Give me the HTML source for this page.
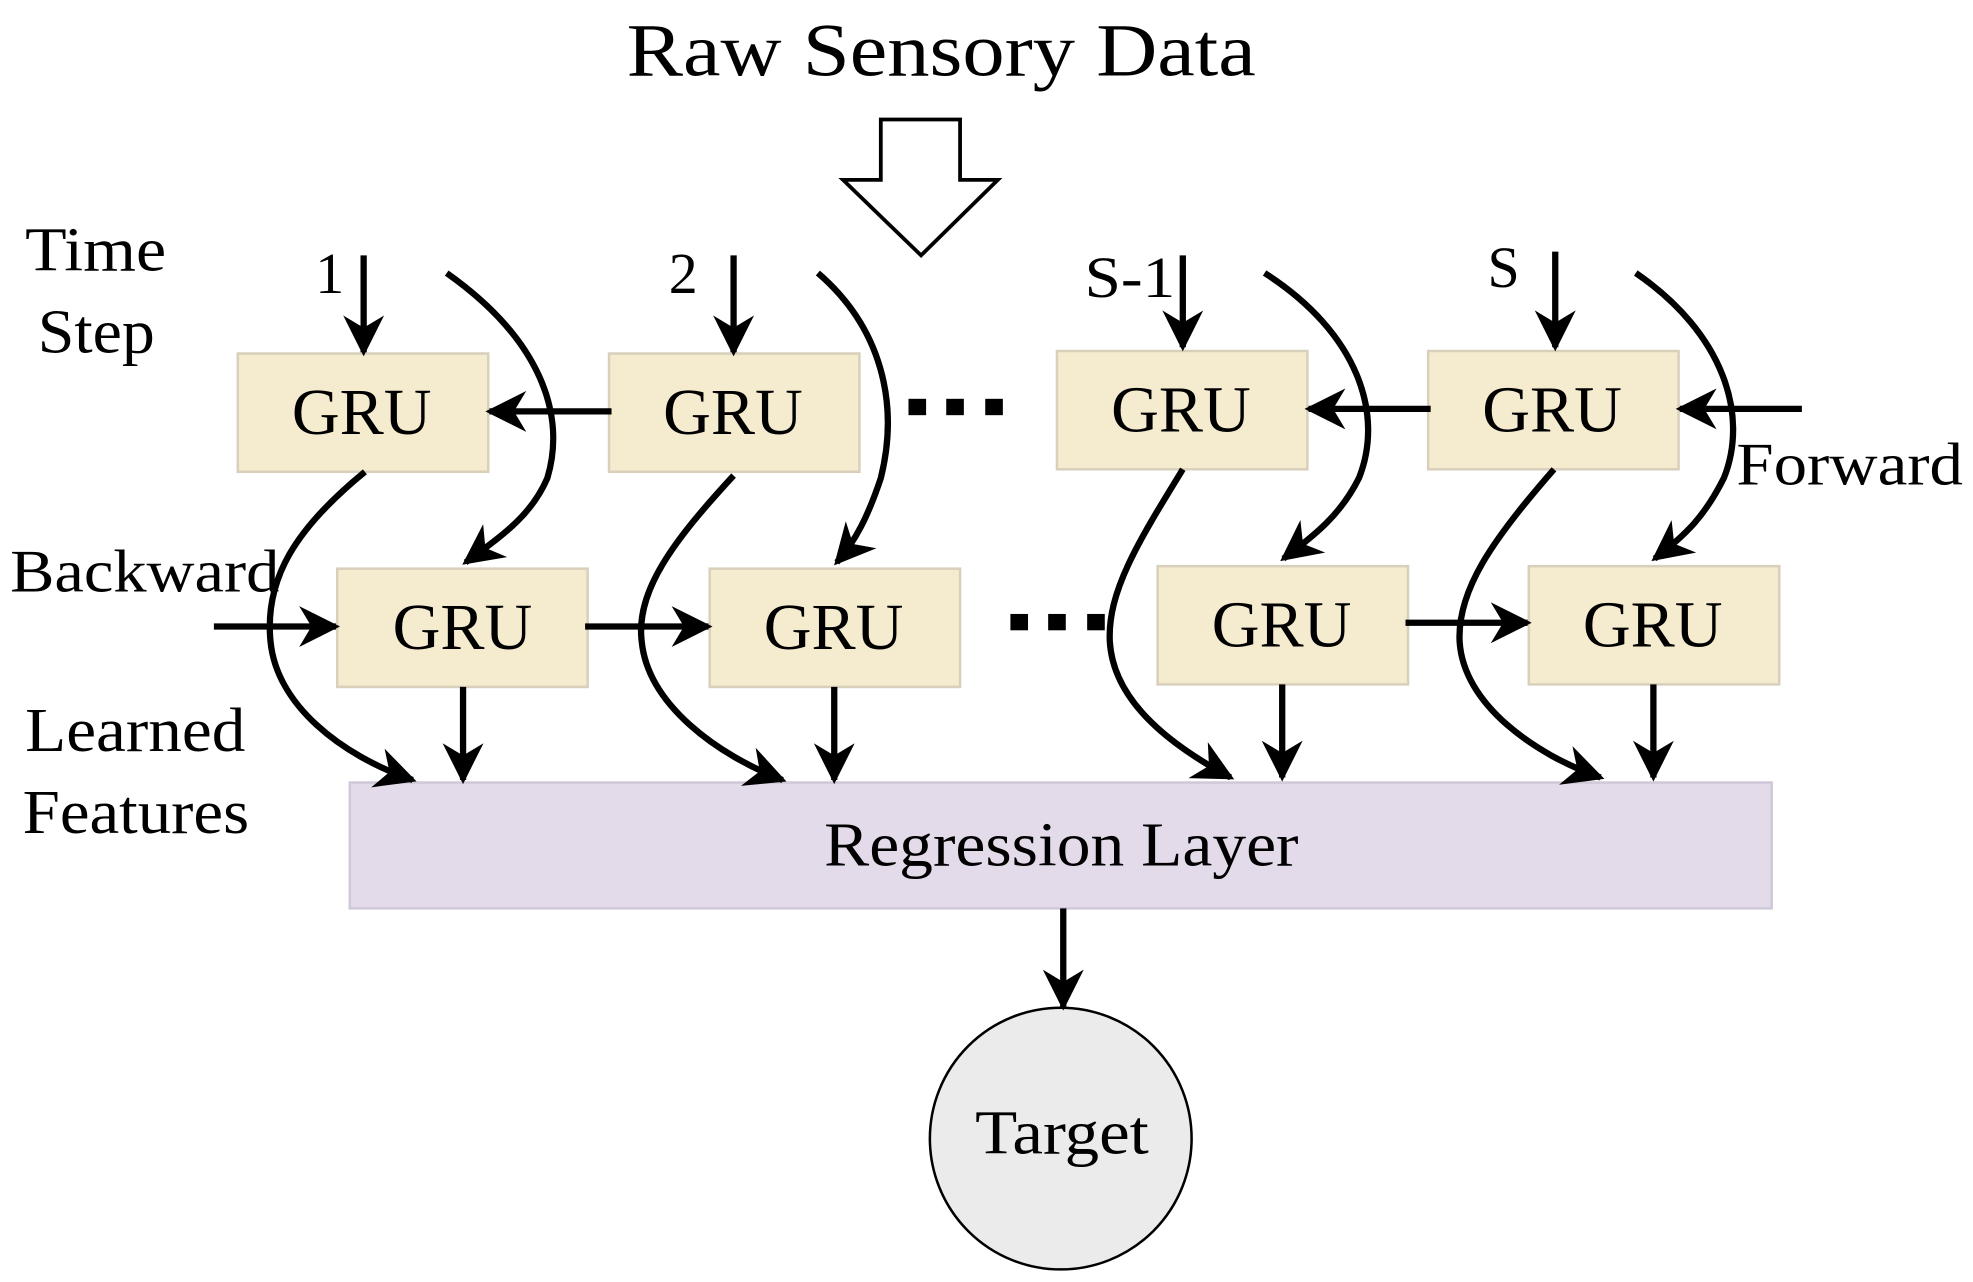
<!DOCTYPE html>
<html><head><style>html,body{margin:0;padding:0;background:#fff}svg{display:block}</style></head>
<body>
<svg width="1973" height="1282" viewBox="0 0 1568 1019" preserveAspectRatio="none" xmlns="http://www.w3.org/2000/svg" font-family="Liberation Serif, serif">
<defs>
<marker id="a" viewBox="0 0 10 10" refX="9" refY="5" markerWidth="6.5" markerHeight="6.5" orient="auto" markerUnits="strokeWidth"><path d="M0,0 L10,5 L0,10 L3,5 z" fill="#000"/></marker>
</defs>
<g lengthAdjust="spacingAndGlyphs">
<text x="498" y="60" font-size="60" textLength="500" lengthAdjust="spacingAndGlyphs">Raw Sensory Data</text>
<text x="20" y="215" font-size="50" textLength="112" lengthAdjust="spacingAndGlyphs">Time</text>
<text x="30" y="280" font-size="50" textLength="93" lengthAdjust="spacingAndGlyphs">Step</text>
<text x="8" y="470" font-size="48" textLength="214" lengthAdjust="spacingAndGlyphs">Backward</text>
<text x="1380" y="385" font-size="48" textLength="180" lengthAdjust="spacingAndGlyphs">Forward</text>
<text x="20" y="597" font-size="50" textLength="175" lengthAdjust="spacingAndGlyphs">Learned</text>
<text x="18" y="662" font-size="50" textLength="180" lengthAdjust="spacingAndGlyphs">Features</text>
</g>
<text x="262" y="233" font-size="46" text-anchor="middle">1</text>
<text x="543" y="233" font-size="46" text-anchor="middle">2</text>
<text x="862" y="236" font-size="46" textLength="72" lengthAdjust="spacingAndGlyphs">S-1</text>
<text x="1195" y="228" font-size="46" text-anchor="middle">S</text>
<g fill="#f5ebcf" stroke="#d8d0bb" stroke-width="2">
<rect x="189" y="281" width="199" height="94"/><rect x="484" y="281" width="199" height="94"/>
<rect x="840" y="279" width="199" height="94"/><rect x="1135" y="279" width="199" height="94"/>
<rect x="268" y="452" width="199" height="94"/><rect x="564" y="452" width="199" height="94"/>
<rect x="920" y="450" width="199" height="94"/><rect x="1215" y="450" width="199" height="94"/>
</g>
<g font-size="52">
<text x="232" y="345" textLength="111" lengthAdjust="spacingAndGlyphs">GRU</text>
<text x="527" y="345" textLength="111" lengthAdjust="spacingAndGlyphs">GRU</text>
<text x="883" y="343" textLength="111" lengthAdjust="spacingAndGlyphs">GRU</text>
<text x="1178" y="343" textLength="111" lengthAdjust="spacingAndGlyphs">GRU</text>
<text x="312" y="516" textLength="111" lengthAdjust="spacingAndGlyphs">GRU</text>
<text x="607" y="516" textLength="111" lengthAdjust="spacingAndGlyphs">GRU</text>
<text x="963" y="514" textLength="111" lengthAdjust="spacingAndGlyphs">GRU</text>
<text x="1258" y="514" textLength="111" lengthAdjust="spacingAndGlyphs">GRU</text>
</g>
<rect x="278" y="622" width="1130" height="100" fill="#e3dbea" stroke="#d0c8d8" stroke-width="2"/>
<text x="655" y="688" font-size="50" textLength="377" lengthAdjust="spacingAndGlyphs">Regression Layer</text>
<circle cx="843" cy="905" r="104" fill="#ebebeb" stroke="#000" stroke-width="2"/>
<text x="775" y="917" font-size="50" textLength="138" lengthAdjust="spacingAndGlyphs">Target</text>
<g stroke="#000" stroke-width="5" fill="none" marker-end="url(#a)">
<line x1="845" y1="722" x2="845" y2="800"/>
<line x1="289" y1="203" x2="289" y2="280"/><line x1="583" y1="203" x2="583" y2="280"/>
<line x1="940" y1="203" x2="940" y2="276"/><line x1="1236" y1="200" x2="1236" y2="276"/>
<line x1="486" y1="327" x2="389" y2="327"/><line x1="1137" y1="325" x2="1040" y2="325"/><line x1="1432" y1="325" x2="1335" y2="325"/>
<line x1="170" y1="498" x2="267" y2="498"/><line x1="465" y1="498" x2="563" y2="498"/><line x1="1117" y1="495" x2="1214" y2="495"/>
<line x1="368" y1="546" x2="368" y2="620"/><line x1="663" y1="546" x2="663" y2="620"/>
<line x1="1019" y1="544" x2="1019" y2="618"/><line x1="1314" y1="544" x2="1314" y2="618"/>
<path d="M355,217 C430,270 450,330 435,380 C422,410 400,425 370,447"/>
<path d="M650,217 C700,260 715,320 700,380 C690,410 680,430 665,447"/>
<path d="M1005,217 C1080,265 1100,330 1080,380 C1065,410 1045,425 1020,444"/>
<path d="M1300,217 C1370,265 1390,330 1370,380 C1355,410 1340,425 1315,444"/>
<path d="M290,375 C235,420 210,460 215,510 C220,560 270,600 328,620"/>
<path d="M583,378 C535,430 505,470 510,510 C515,560 570,600 622,620"/>
<path d="M940,373 C905,430 880,470 882,510 C885,560 935,595 978,618"/>
<path d="M1235,373 C1185,430 1158,470 1160,510 C1163,560 1220,600 1272,618"/>
</g>
<g fill="#000">
<rect x="722" y="317" width="14" height="13"/><rect x="752" y="317" width="14" height="13"/><rect x="783" y="317" width="14" height="13"/>
<rect x="803" y="488" width="14" height="13"/><rect x="833" y="488" width="14" height="13"/><rect x="864" y="488" width="14" height="13"/>
</g>
<path d="M700,95 L763,95 L763,143 L793,143 L732,203 L670,143 L700,143 Z" fill="#fff" stroke="#000" stroke-width="3"/>
</svg>
</body></html>
